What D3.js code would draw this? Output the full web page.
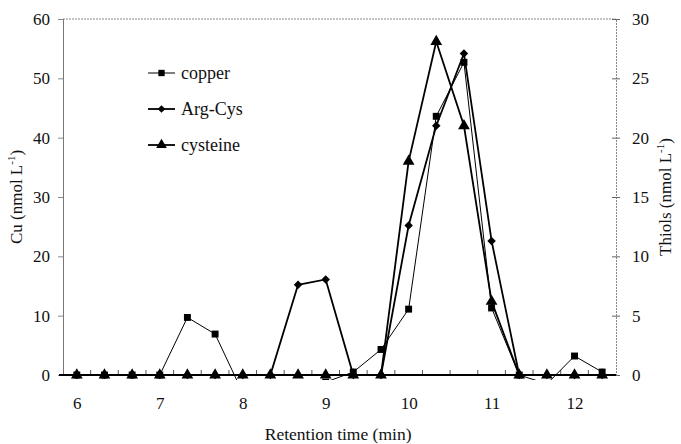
<!DOCTYPE html>
<meta charset="utf-8">
<style>
body { margin: 0; background: #fff; }
</style>
<body>
<script src="https://d3js.org/d3.v7.min.js"></script>
<script>
// retention times (min)
var times = [6, 6.333, 6.667, 7, 7.333, 7.667, 8, 8.333, 8.667, 9, 9.333, 9.667,
             10, 10.333, 10.667, 11, 11.333, 11.667, 12, 12.333];
// copper on left axis (nmol/L)
var copper = [0, 0, 0, 0, 9.7, 6.9, -3, -2, -2, -1.2, 0.5, 4.3,
              11.1, 43.6, 52.7, 11.3, 0, -1.5, 3.2, 0.5];
// thiols on right axis (nmol/L)
var argCys = [0, 0, 0, 0, 0, 0, 0, 0, 7.6, 8.05, 0, 0,
              12.6, 21, 27.1, 11.3, 0, 0, 0, 0];
var cysteine = [0, 0, 0, 0, 0, 0, 0, 0, 0, 0, 0, 0,
                18, 28.1, 21, 6.2, 0, 0, 0, 0];
var xTicks = [6, 7, 8, 9, 10, 11, 12];
var leftTicks = [0, 10, 20, 30, 40, 50, 60];
var rightTicks = [0, 5, 10, 15, 20, 25, 30];

var margin = { top: 19, right: 65, bottom: 69, left: 63 };
var W = 681, H = 444;
var width = W - margin.left - margin.right;
var height = H - margin.top - margin.bottom;
var serif = "Liberation Serif, DejaVu Serif, serif";

var svg = d3.select("body").append("svg")
    .attr("width", W)
    .attr("height", H)
    .attr("font-family", serif);
var g = svg.append("g")
    .attr("transform", "translate(" + margin.left + "," + margin.top + ")");

var x = d3.scaleLinear().domain([5.8333, 12.5]).range([0, width]);
var yL = d3.scaleLinear().domain([0, 60]).range([height, 0]);
var yR = d3.scaleLinear().domain([0, 30]).range([height, 0]);

g.append("clipPath").attr("id", "clip")
  .append("rect").attr("x", 0).attr("y", 0).attr("width", width).attr("height", height + 5);

// top border (dotted)
g.append("line")
    .attr("x1", 0).attr("x2", width).attr("y1", 0).attr("y2", 0)
    .attr("stroke", "#888").attr("stroke-dasharray", "2,1");

// left axis
var la = g.append("g").call(d3.axisLeft(yL).tickValues(leftTicks).tickSize(5).tickPadding(8));
la.select(".domain").attr("stroke", "#777");
la.selectAll(".tick line").attr("stroke", "#888");

// right axis
var ra = g.append("g").attr("transform", "translate(" + width + ",0)")
    .call(d3.axisRight(yR).tickValues(rightTicks).tickSize(4).tickPadding(12));
ra.select(".domain").attr("stroke", "#888").attr("stroke-dasharray", "2,1");
ra.selectAll(".tick line").attr("stroke", "#666").attr("x1", -4);

// bottom axis: labels at points, small tick marks between categories
var xa = g.append("g").attr("transform", "translate(0," + height + ")")
    .call(d3.axisBottom(x).tickValues(xTicks).tickFormat(d3.format("d")).tickSize(0).tickPadding(22));
xa.select(".domain").remove();

[la, ra, xa].forEach(function(a) {
  a.attr("font-family", serif).attr("font-size", 17);
  a.selectAll("text").attr("fill", "#111");
});

var between = d3.range(19).map(function(i) { return times[i] + 1 / 6; });
g.append("g").selectAll("line").data(between).enter().append("line")
    .attr("x1", function(d) { return x(d); }).attr("x2", function(d) { return x(d); })
    .attr("y1", height).attr("y2", height - 5)
    .attr("stroke", "#555");

var plot = g.append("g").attr("clip-path", "url(#clip)");

function markerPath(type, size) {
  if (type === "diamond") return d3.symbol().type(d3.symbolSquare).size(size)();
  return d3.symbol().type(type).size(size)();
}

function series(vals, yScale, sw, type, size) {
  var pts = times.map(function(t, i) { return [t, vals[i]]; });
  var line = d3.line()
      .x(function(d) { return x(d[0]); })
      .y(function(d) { return yScale(d[1]); });
  plot.append("path").datum(pts)
      .attr("fill", "none").attr("stroke", "#000").attr("stroke-width", sw)
      .attr("d", line);
  var rot = type === "diamond" ? " rotate(45)" : "";
  plot.selectAll(null).data(pts).enter().append("path")
      .attr("d", markerPath(type, size))
      .attr("transform", function(d) { return "translate(" + x(d[0]) + "," + yScale(d[1]) + ")" + rot; })
      .attr("fill", "#000");
}

series(copper, yL, 1, d3.symbolSquare, 48);
series(argCys, yR, 1.8, "diamond", 36);
series(cysteine, yR, 1.8, d3.symbolTriangle, 60);

// x axis line on top
g.append("line")
    .attr("x1", -4).attr("x2", width).attr("y1", height).attr("y2", height)
    .attr("stroke", "#000").attr("stroke-width", 2);

// axis titles
function yTitle(label, tx) {
  var t = svg.append("text")
      .attr("font-size", 17).attr("fill", "#111")
      .attr("transform", "translate(" + tx + "," + (margin.top + height / 2) + ") rotate(-90)")
      .attr("text-anchor", "middle");
  t.append("tspan").text(label + " (nmol L");
  t.append("tspan").attr("dy", -7).attr("font-size", 11).text("-1");
  t.append("tspan").attr("dy", 7).text(")");
}
yTitle("Cu", 22);
yTitle("Thiols", 671);

svg.append("text")
    .attr("font-size", 17.5).attr("fill", "#111")
    .attr("x", margin.left + x(9.15)).attr("y", 440)
    .attr("text-anchor", "middle")
    .text("Retention time (min)");

// legend
var legendItems = [
  { name: "copper", type: d3.symbolSquare, size: 40, sw: 1 },
  { name: "Arg-Cys", type: "diamond", size: 30, sw: 1.8 },
  { name: "cysteine", type: d3.symbolTriangle, size: 50, sw: 1.8 }
];
var lg = svg.selectAll(".legend").data(legendItems).enter().append("g")
    .attr("class", "legend")
    .attr("transform", function(d, i) { return "translate(148," + (73 + i * 36) + ")"; });
lg.append("line").attr("x1", 0).attr("x2", 27).attr("stroke", "#000")
    .attr("stroke-width", function(d) { return d.sw; });
lg.append("path")
    .attr("d", function(d) { return markerPath(d.type, d.size); })
    .attr("transform", function(d) { return "translate(13.5,0)" + (d.type === "diamond" ? " rotate(45)" : ""); });
lg.append("text").attr("x", 33).attr("dy", "0.35em")
    .attr("font-size", 18).attr("fill", "#111")
    .text(function(d) { return d.name; });
</script>
</body>
